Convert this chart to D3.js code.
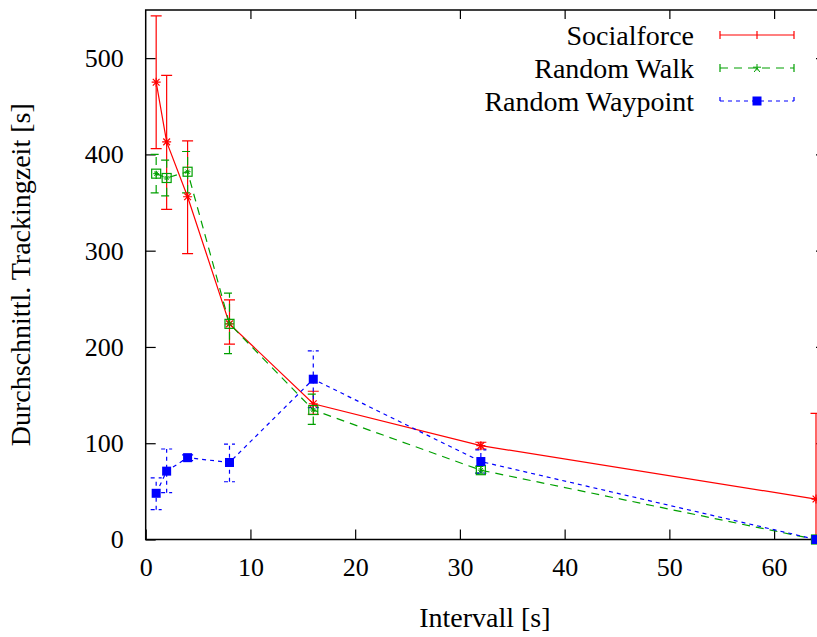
<!DOCTYPE html>
<html><head><meta charset="utf-8">
<script src="https://cdn.jsdelivr.net/npm/d3@7"></script>
<style>body{margin:0;background:#fff}svg{display:block}text{font-family:"Liberation Serif","Times New Roman",serif;fill:#000}</style>
</head><body><svg id="c" width="817" height="637"></svg>
<script>
const intervals = [1, 2, 4, 8, 16, 32, 64];
const socialMean = [475, 413, 356, 224, 141, 97.5, 42];
const socialLo   = [406, 343, 297, 203, 130, 94, -47];
const socialHi   = [544, 482, 414, 249, 154, 101, 131];
const walkMean = [380, 375.5, 382, 224, 134.5, 72, 0];
const walkLo   = [360, 357, 360, 193, 119.5, 69, 0];
const walkHi   = [400, 394, 403, 256, 151, 76, 0];
const wayMean = [48, 71, 85, 80, 166.5, 81, 0];
const wayLo   = [31, 48.6, 82, 60, 137, 69, 0];
const wayHi   = [64, 94, 88, 99, 196, 93, 0];
const xTicks = [0, 10, 20, 30, 40, 50, 60];
const yTicks = [0, 100, 200, 300, 400, 500];
const seriesNames = ["Socialforce", "Random Walk", "Random Waypoint"];

const L = 145.7, R = 816, T = 10, B = 539.5;
const x = d3.scaleLinear().domain([0, 64]).range([L, R]);
const y = d3.scaleLinear().domain([0, 550]).range([B, T]);
const svg = d3.select("#c");

const series = [
  {name: seriesNames[0], mean: socialMean, lo: socialLo, hi: socialHi, color: "#ff0000", dash: null, marker: "star"},
  {name: seriesNames[1], mean: walkMean, lo: walkLo, hi: walkHi, color: "#00a000", dash: "8,6", marker: "boxstar"},
  {name: seriesNames[2], mean: wayMean, lo: wayLo, hi: wayHi, color: "#0000ff", dash: "4,4", marker: "fbox"}
];

svg.append("defs").append("clipPath").attr("id", "clip")
  .append("rect").attr("x", L - 20).attr("y", T).attr("width", R - L + 40).attr("height", B - T);

const gx = svg.append("g").attr("transform", `translate(0,${B})`)
  .call(d3.axisBottom(x).tickValues(xTicks).tickSize(-10).tickPadding(18).tickFormat(d3.format("d")));
const gx2 = svg.append("g").attr("transform", `translate(0,${T})`)
  .call(d3.axisTop(x).tickValues(xTicks.slice(1)).tickSize(-9).tickFormat(""));
const gy = svg.append("g").attr("transform", `translate(${L},0)`)
  .call(d3.axisLeft(y).tickValues(yTicks).tickSize(-10).tickPadding(22).tickFormat(d3.format("d")));
const gy2 = svg.append("g").attr("transform", `translate(826,0)`)
  .call(d3.axisRight(y).tickValues(yTicks).tickSize(-10).tickFormat(""));
[gx, gx2, gy, gy2].forEach(g => {
  g.select(".domain").remove();
  g.selectAll(".tick line").attr("stroke", "#000").attr("stroke-width", 1.2);
  g.selectAll(".tick text").style("font-size", "26px").style("font-family", '"Liberation Serif",serif');
});
svg.append("path").attr("d", `M${L},${T}V${B}H826V${T}Z`).attr("fill", "none").attr("stroke", "#000").attr("stroke-width", 1.5);

const plot = svg.append("g");
const clipped = plot.append("g").attr("clip-path", "url(#clip)");

function drawMarker(g, type, cx, cy, color) {
  if (type === "star") {
    const r = 4.5;
    g.append("path").attr("d", `M${cx-r},${cy}H${cx+r}M${cx},${cy-r}V${cy+r}M${cx-r*0.75},${cy-r*0.75}L${cx+r*0.75},${cy+r*0.75}M${cx-r*0.75},${cy+r*0.75}L${cx+r*0.75},${cy-r*0.75}`)
      .attr("stroke", color).attr("stroke-width", 1.2).attr("fill", "none");
  } else if (type === "boxstar") {
    const r = 4.5;
    g.append("rect").attr("x", cx - r).attr("y", cy - r).attr("width", 2*r).attr("height", 2*r)
      .attr("fill", "none").attr("stroke", color).attr("stroke-width", 1.2);
    const s = 3;
    g.append("path").attr("d", `M${cx-s},${cy}H${cx+s}M${cx},${cy-s}V${cy+s}M${cx-s*0.7},${cy-s*0.7}L${cx+s*0.7},${cy+s*0.7}M${cx-s*0.7},${cy+s*0.7}L${cx+s*0.7},${cy-s*0.7}`)
      .attr("stroke", color).attr("stroke-width", 1).attr("fill", "none");
  } else if (type === "smallstar") {
    const r = 4;
    g.append("path").attr("d", `M${cx},${cy-r}V${cy+r*0.6}M${cx-r},${cy-r*0.2}L${cx+r},${cy-r*0.2}M${cx-r*0.7},${cy+r}L${cx},${cy}L${cx+r*0.7},${cy+r}`)
      .attr("stroke", color).attr("stroke-width", 1).attr("fill", "none");
  } else if (type === "plus") {
    g.append("path").attr("d", `M${cx},${cy-4}V${cy+4}`).attr("stroke", color).attr("stroke-width", 1.2);
  } else {
    const r = 4.5;
    g.append("rect").attr("x", cx - r).attr("y", cy - r).attr("width", 2*r).attr("height", 2*r).attr("fill", color);
  }
}

series.forEach(s => {
  const pts = intervals.map((iv, i) => ({x: iv, m: s.mean[i], lo: s.lo[i], hi: s.hi[i]}));
  pts.forEach(p => {
    if (p.hi === p.lo) return;
    const cx = x(p.x), cw = 5.5;
    clipped.append("path")
      .attr("d", `M${cx},${y(p.lo)}V${y(p.hi)}M${cx-cw},${y(p.hi)}H${cx+cw}M${cx-cw},${y(p.lo)}H${cx+cw}`)
      .attr("stroke", s.color).attr("stroke-width", 1.2).attr("fill", "none")
      .attr("stroke-dasharray", s.dash);
  });
  plot.append("path").datum(pts)
    .attr("d", d3.line().x(p => x(p.x)).y(p => y(p.m)))
    .attr("fill", "none").attr("stroke", s.color).attr("stroke-width", 1.2)
    .attr("stroke-dasharray", s.dash);
  pts.forEach(p => drawMarker(plot, s.marker, x(p.x), y(p.m), s.color));
});

const legY = [35, 68, 101];
const legMarkers = ["plus", "smallstar", "fbox"];
series.forEach((s, i) => {
  const g = svg.append("g");
  const yy = legY[i];
  g.append("text").attr("x", 694).attr("y", yy).attr("text-anchor", "end").attr("dy", "0.35em")
    .style("font-size", "28px").text(s.name);
  g.append("path").attr("d", `M720,${yy}H794M720,${yy-4}V${yy+4}M794,${yy-4}V${yy+4}`)
    .attr("stroke", s.color).attr("stroke-width", 1.2).attr("fill", "none").attr("stroke-dasharray", s.dash);
  drawMarker(g, legMarkers[i], 757, yy, s.color);
});

svg.append("text").attr("x", (L + R) / 2 + 4).attr("y", 627).attr("text-anchor", "middle")
  .style("font-size", "28px").text("Intervall [s]");
svg.append("text").attr("transform", `translate(30,${(T + B) / 2}) rotate(-90)`).attr("text-anchor", "middle")
  .style("font-size", "28px").text("Durchschnittl. Trackingzeit [s]");
</script></body></html>
